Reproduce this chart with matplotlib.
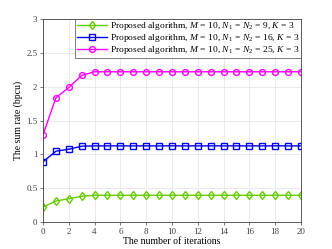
import numpy as np
import matplotlib
matplotlib.use("Agg")
import matplotlib.pyplot as plt

plt.rcParams['font.family'] = ['Liberation Serif', 'DejaVu Serif']
plt.rcParams['mathtext.fontset'] = 'custom'
plt.rcParams['mathtext.rm'] = 'Liberation Serif'
plt.rcParams['mathtext.it'] = 'Liberation Serif:italic'

iterations = np.arange(0, 21)
rate_n9 = [0.222, 0.31, 0.345, 0.38] + [0.395] * 17
rate_n16 = [0.888, 1.046, 1.076, 1.12] + [1.125] * 17
rate_n25 = [1.288, 1.835, 1.988, 2.166] + [2.22] * 17

labels = [
    r'Proposed algorithm, $M\,=\,10$, $N_1\,=\,N_2\,=\,9$, $K\,=\,3$',
    r'Proposed algorithm, $M\,=\,10$, $N_1\,=\,N_2\,=\,16$, $K\,=\,3$',
    r'Proposed algorithm, $M\,=\,10$, $N_1\,=\,N_2\,=\,25$, $K\,=\,3$',
]

fig = plt.figure(figsize=(3.32, 2.49), dpi=100)
ax = fig.add_axes([0.1295, 0.1084, 0.7771, 0.8153])

ax.plot(iterations, rate_n9, color='#66cc00', marker='d', markersize=4.5,
        markerfacecolor='none', linewidth=1.0, label=labels[0])
ax.plot(iterations, rate_n16, color='#0000ee', marker='s', markersize=4,
        markerfacecolor='none', linewidth=1.0, label=labels[1])
ax.plot(iterations, rate_n25, color='#ff00ff', marker='o', markersize=4.2,
        markerfacecolor='none', linewidth=1.0, label=labels[2])

ax.set_xlim(0, 20)
ax.set_ylim(0, 3)
ax.set_xticks(np.arange(0, 21, 2))
ax.set_yticks([0, 0.5, 1, 1.5, 2, 2.5, 3])
ax.set_yticklabels(['0', '0.5', '1', '1.5', '2', '2.5', '3'])
ax.grid(True, color='#e6e6e6', linewidth=0.6)
ax.set_axisbelow(True)
ax.tick_params(labelsize=6.5, length=2, width=0.5, colors='#404040', pad=2)
for s in ax.spines.values():
    s.set_color('#404040')
    s.set_linewidth(0.6)

ax.set_xlabel('The number of iterations', fontsize=7, labelpad=1)
ax.set_ylabel('The sum rate (bpcu)', fontsize=7, labelpad=2)

leg = ax.legend(loc='upper right', fontsize=6.8, frameon=True, fancybox=False,
                borderaxespad=0, handlelength=3.2, handletextpad=0.3,
                labelspacing=0.0, borderpad=0.15)
leg.get_frame().set_edgecolor('#404040')
leg.get_frame().set_linewidth(0.6)

fig.savefig('out.png', dpi=100)
